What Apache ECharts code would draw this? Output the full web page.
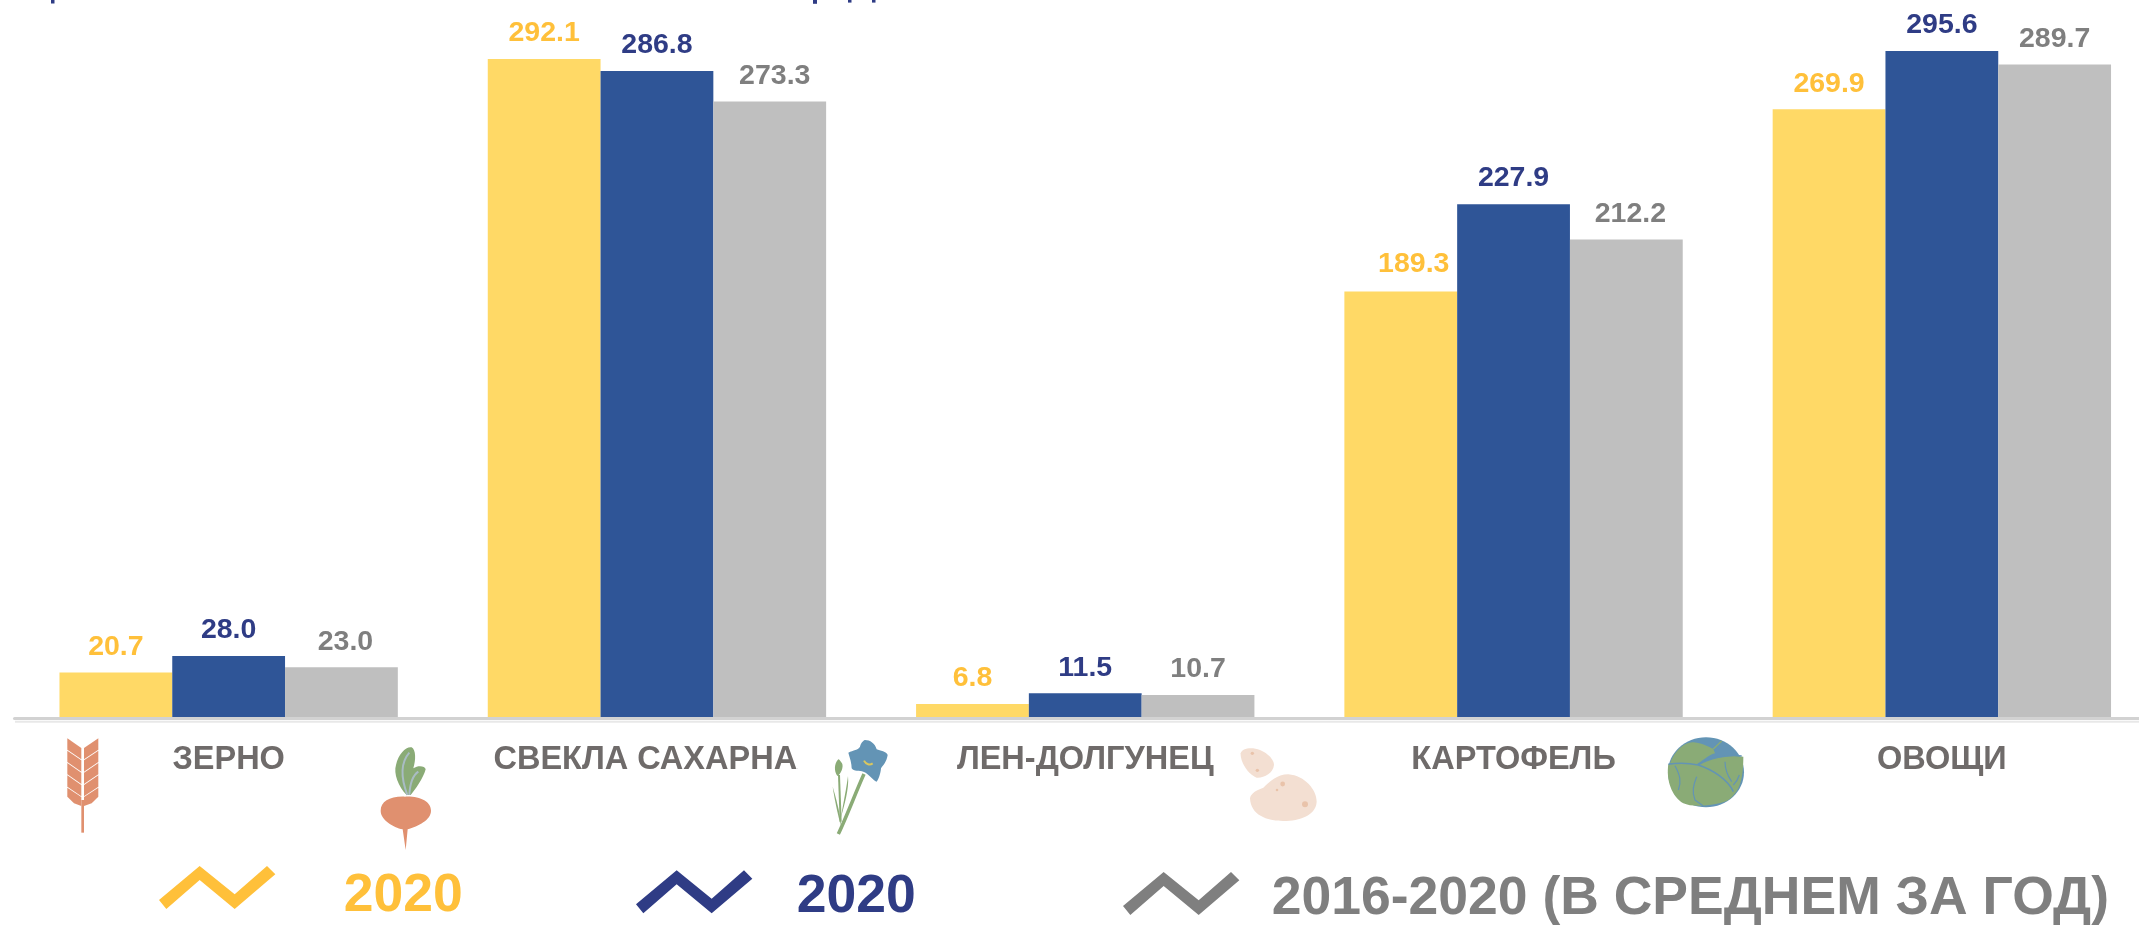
<!DOCTYPE html>
<html><head><meta charset="utf-8">
<style>html,body{margin:0;padding:0;background:#fff}#c{width:2139px;height:926px}</style>
<script src="https://cdn.jsdelivr.net/npm/echarts@6/dist/echarts.min.js"></script>
</head><body><div id="c"></div>
<script>
const categories = ['ЗЕРНО','СВЕКЛА САХАРНАЯ','ЛЕН-ДОЛГУНЕЦ','КАРТОФЕЛЬ','ОВОЩИ'];
const seriesNames = ['2020','2020','2016-2020 (В СРЕДНЕМ ЗА ГОД)'];
const valuesA = [20.7,292.1,6.8,189.3,269.9];
const valuesB = [28.0,286.8,11.5,227.9,295.6];
const valuesC = [23.0,273.3,10.7,212.2,289.7];
const barColors = ['#FFD966','#2F5597','#BFBFBF'];
const textColors = ['#FFC03A','#2F3C85','#7F7F7F'];
const FONT = '"Liberation Sans", Arial, sans-serif';
const labelNudges = [[[0,0],[0,0],[0,0],[13,-2],[0,0]],[[0,0],[0,0],[0,0],[0,0],[0,0]],[[4,0],[5,0],[0,0],[4,0],[0,0]]];

function bar(i, vals){
  return {type:'bar',name:seriesNames[i],barGap:0,barCategoryGap:'21%',
    data:vals.map((v,k)=>({value:v,label:{offset:labelNudges[i][k]}})),
    itemStyle:{color:barColors[i]},
    label:{show:true,position:'top',distance:11,formatter:p=>p.value.toFixed(1),
      fontFamily:FONT,fontWeight:'bold',fontSize:28.5,color:textColors[i]}};
}
// zigzag whose box extends blank below it, so the label centres lower than the zigzag
function zig(extra){
  const b=162+extra*3;
  return 'path://M28 135L150 33L255 118L352 33L377 58L255 162L150 75L50 162ZM28 '+b+'L28 '+b;
}
function legend(i,left,top,pad,extra){
  return {show:true,left,top,orient:'horizontal',selectedMode:false,itemWidth:117,itemHeight:43+extra,padding:0,
    data:[{name:seriesNames[i],icon:zig(extra),itemStyle:{color:textColors[i],borderWidth:0},
      textStyle:{color:textColors[i],fontFamily:FONT,fontWeight:'bold',fontSize:53.5,padding:[0,0,0,pad]}}]};
}
// decorative icons: path in 3x-crop coordinates of a frame at (ox,oy)
let iconId=0;
function part(ox,oy,w,h,d,fill,stroke,lw){
  const t='iconPart'+(iconId++);
  echarts.graphic.registerShape(t,echarts.graphic.extendPath(d));
  return {type:t,z:40,silent:true,x:ox,y:oy,scaleX:1/3,scaleY:1/3,shape:{},
    style:{fill:fill||'none',stroke:stroke||'none',lineWidth:(lw||0)*3}};
}
function dot(x,y,r,c){return {type:'circle',z:41,silent:true,shape:{cx:x,cy:y,r},style:{fill:c}};}
const ORANGE='#E0906F',GREEN='#8AAB76',BLUE='#6394B5';
const icons=[];
// wheat
(function(){const f=(d,c)=>part(40,700,300,420,d,c||ORANGE);
  for(let k=0;k<4;k++){const o=37*k;
    icons.push(f(`M82 ${115+o}L124 ${144+o}L124 ${178+o}L82 ${149+o}Z`));
    icons.push(f(`M175 ${115+o}L132 ${144+o}L132 ${178+o}L175 ${149+o}Z`));}
  icons.push(f('M82 263L124 291L124 318L102 310L82 290Z'));
  icons.push(f('M175 263L132 291L132 318L155 310L175 290Z'));
  icons.push(f('M124 300L132 300L132 398L124 398Z'));
})();
// beet
(function(){const f=(d,c,s,l)=>part(360,740,270,360,d,c,s,l);
  icons.push(f('M140 165C115 140 100 100 108 75C115 40 140 18 155 22C168 30 168 60 160 85C175 75 195 78 197 88C190 115 165 150 152 165Z',GREEN));
  icons.push(f('M142 165C125 120 120 70 148 38',null,'#A9BCC4',2));
  icons.push(f('M148 165C150 130 160 105 175 95',null,'#A9BCC4',2));
  icons.push(f('M135 170C90 168 62 185 62 212C62 240 100 262 128 268L137 330L143 268C175 258 213 240 213 212C213 185 180 168 135 170Z',ORANGE));
})();
// flax
(function(){const f=(d,c,s,l)=>part(820,730,270,360,d,c,s,l);
  icons.push(f('M132 132C110 180 80 260 55 312',null,GREEN,3.5));
  icons.push(f('M57 135L62 275',null,GREEN,2));
  icons.push(f('M55 88C42 100 42 125 52 138C62 135 72 110 66 100C60 92 58 88 55 88Z',GREEN));
  icons.push(f('M38 170C45 215 55 260 62 285C65 270 50 210 38 170Z',GREEN));
  icons.push(f('M84 138C80 170 70 220 62 265C72 230 88 175 84 138Z',GREEN));
  icons.push(f('M135 30C150 30 165 40 170 58C180 62 200 65 203 75C200 95 190 105 183 115C182 130 175 150 170 155C158 150 145 130 130 125C120 122 100 125 95 115C95 100 90 85 85 68C100 60 115 60 120 50C122 42 128 32 135 30Z',BLUE));
  icons.push(f('M132 92C138 104 150 106 158 100',null,'#D9C75F',2));
})();
// potatoes
(function(){const f=d=>part(1230,735,330,300,d,'#F3DFD2');
  icons.push(f('M32 55C35 40 65 35 90 45C115 55 132 75 132 90C130 115 100 130 80 128C55 120 30 80 32 55Z'));
  icons.push(f('M60 190C62 175 80 165 100 158C120 140 140 118 175 118C225 122 260 165 260 200C258 240 210 258 160 258C110 258 62 240 60 190Z'));
  [[67,55,1.7],[82,106,1.7],[158,147,2.4],[141,165,1.3],[225,208,3]].forEach(p=>icons.push(dot(1230+p[0]/3,735+p[1]/3,p[2],'#E9C3AA')));
})();
// cabbage
(function(){const f=(d,c,s,l)=>part(1650,725,330,270,d,c,s,l);
  icons.push(f('M54 142C54 84 105 37 168 37C231 37 282 84 282 142C282 200 231 247 168 247C105 247 54 200 54 142Z',BLUE));
  icons.push(f('M60 115C75 75 105 50 130 52C160 55 185 70 190 72L195 85C175 90 155 110 140 118Z',GREEN));
  icons.push(f('M55 118C100 110 140 115 145 120C175 100 230 88 280 95C280 160 270 200 235 225C210 240 130 250 100 235C65 215 48 165 55 118Z',GREEN));
  icons.push(f('M190 72L215 48',null,GREEN,1.5));
  icons.push(f('M55 118C90 112 120 115 145 120C190 135 235 165 250 200',null,BLUE,1.5));
  icons.push(f('M145 120C175 100 230 88 275 93',null,BLUE,1.5));
  icons.push(f('M75 122C90 150 95 170 85 195',null,BLUE,1.2));
  icons.push(f('M140 155C130 180 125 200 135 225L160 243',null,BLUE,1.2));
  icons.push(f('M225 110C225 135 235 155 245 170',null,BLUE,1.2));
  icons.push(f('M250 180C255 175 265 160 268 150',null,BLUE,1.2));
})();
const overlays=[
  {type:'rect',z:50,silent:true,shape:{x:798,y:738,width:28,height:44},style:{fill:'#fff'}},
  {type:'rect',z:5,silent:true,shape:{x:15,y:720.7,width:2124,height:2},style:{fill:'#E8E8E8'}},
  {type:'rect',z:5,silent:true,shape:{x:51,y:0,width:3.5,height:3.5},style:{fill:'#2F3C85'}},
  {type:'rect',z:5,silent:true,shape:{x:813,y:0,width:4,height:3.8},style:{fill:'#2F3C85'}},
  {type:'rect',z:5,silent:true,shape:{x:848,y:0,width:3.5,height:2.6},style:{fill:'#2F3C85'}},
  {type:'rect',z:5,silent:true,shape:{x:872,y:0,width:3.5,height:2.6},style:{fill:'#2F3C85'}}
];
const chart=echarts.init(document.getElementById('c'),null,{renderer:'canvas'});
chart.setOption({
  animation:false,backgroundColor:'#fff',
  grid:{left:14.5,top:41.15,width:2141.5,height:678.15,containLabel:false,outerBoundsMode:'none'},
  xAxis:{type:'category',data:categories,offset:-1,z:3,
    axisLine:{show:true,onZero:false,lineStyle:{color:'#D2D2D2',width:3}},axisTick:{show:false},
    axisLabel:{margin:25.5,interval:0,fontFamily:FONT,fontWeight:'bold',fontSize:32.5,color:'#6F6B6A'}},
  yAxis:{type:'value',min:0,max:300,show:false,splitLine:{show:false}},
  legend:[legend(0,159,866,63,18.4),legend(1,636,870,39,10.4),legend(2,1123,872,27,11.8)],
  series:[bar(0,valuesA),bar(1,valuesB),bar(2,valuesC)],
  graphic:{elements:icons.concat(overlays)}
});
</script></body></html>
